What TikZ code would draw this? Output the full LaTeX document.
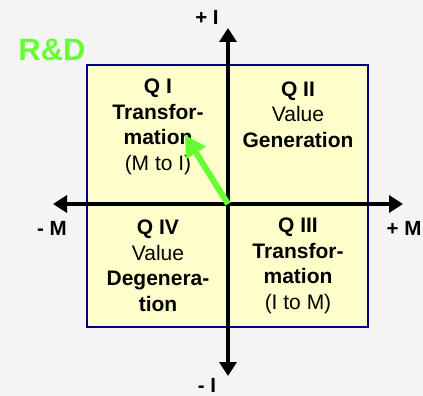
\documentclass[tikz,border=0pt]{standalone}
\usepackage{fontspec}
\setmainfont{Liberation Sans}
\usetikzlibrary{arrows.meta}
\definecolor{bg}{HTML}{F4F4F4}
\definecolor{quad}{HTML}{FFFFCC}
\definecolor{navy}{HTML}{000080}
\definecolor{rdgreen}{HTML}{66FF33}
\begin{document}
\begin{tikzpicture}[x=1pt,y=-1pt,
  qtext/.style={align=center,font=\fontsize{21}{25.5}\selectfont,inner sep=0pt},
  axlabel/.style={font=\fontsize{20.5}{24}\selectfont\bfseries,inner sep=0pt},
  axis/.style={line width=4pt,-{Triangle[length=14pt,width=17pt]}},
  grarrow/.style={line width=6pt,rdgreen,-{Triangle[length=21pt,width=22pt]}}]
\useasboundingbox[fill=bg] (0,0) rectangle (423,396);
\node[draw=navy,line width=1.5pt,fill=quad,minimum width=281pt,minimum height=262pt,inner sep=0pt] (box) at (227.5,196) {};
\coordinate (O) at (228,204);
\coordinate (top) at (228,28);
\coordinate (bot) at (228,376);
\coordinate (left) at (53,204);
\coordinate (right) at (403,204);
\coordinate (tip) at (185,135);
\node[qtext] (q1) at (158,127) {\textbf{Q I}\\\textbf{Transfor-}\\\textbf{mation}\\(M to I)};
\node[qtext] (q2) at (298,114.5) {\textbf{Q II}\\Value\\\textbf{Generation}};
\node[qtext] (q4) at (158,266) {\textbf{Q IV}\\Value\\\textbf{Degenera-}\\\textbf{tion}};
\node[qtext] (q3) at (298,266) {\textbf{Q III}\\\textbf{Transfor-}\\\textbf{mation}\\(I to M)};
\draw[axis] (O) -- (top);
\draw[axis] (O) -- (bot);
\draw[axis] (O) -- (left);
\draw[axis] (O) -- (right);
\draw[grarrow] (O) -- (tip);
\node[axlabel] (pI) at (207,17) {+ I};
\node[axlabel] (mI) at (207,385) {- I};
\node[axlabel] (mM) at (52,228) {- M};
\node[axlabel] (pM) at (404,228) {+ M};
\node[font=\fontsize{31}{36}\selectfont\bfseries,text=rdgreen,inner sep=0pt] (rd) at (52,50) {R\&D};
\end{tikzpicture}
\end{document}
